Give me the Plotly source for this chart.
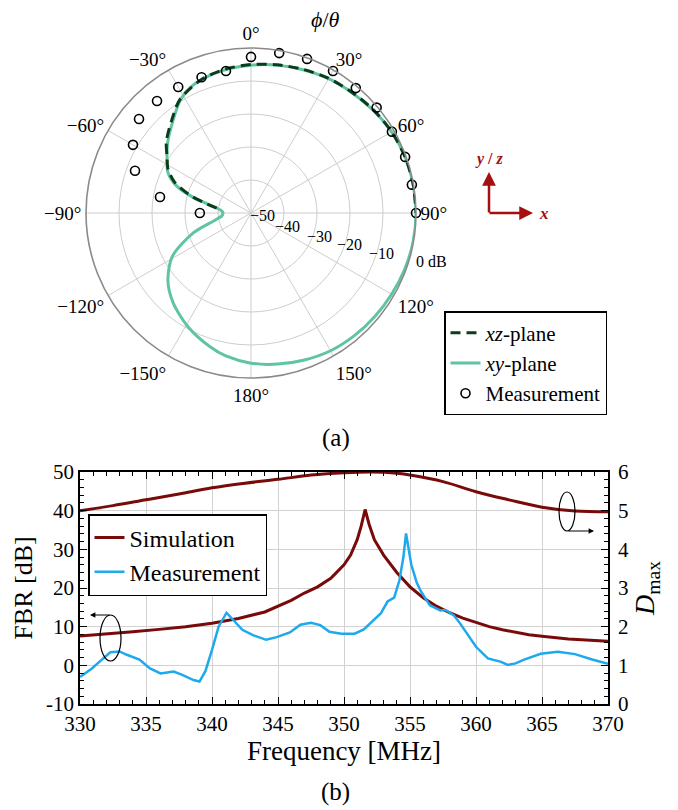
import plotly.graph_objects as go

W, H = 678, 810
SERIF = "Liberation Serif"

# ---------------- (a) polar pattern data ----------------
xy_theta = [0, 10, 20, 30, 40, 50, 60, 70, 80, 90, 100, 110, 120, 130, 140, 150, 160, 170, 180,
            190, 197, 209, 221, 231, 241, 251, 259, 265, 270, 273, 278, 285, 290, 296, 302, 310,
            319, 328, 335, 345, 352, 360]
xy_db = [-5.2, -4.5, -3.8, -3.0, -2.4, -1.6, -0.8, -0.3, -0.1, 0.0, -0.1, -0.4, -0.8, -1.1, -1.4,
         -1.8, -2.6, -3.5, -4.5, -6.0, -7.6, -10.6, -14.0, -17.6, -22.7, -31.5, -39.0, -41.2, -41.5,
         -41.3, -39.7, -32.0, -26.0, -22.0, -20.0, -17.0, -13.7, -9.6, -7.6, -6.3, -5.7, -5.2]

xz_theta = [-82, -78, -74, -68, -62, -56, -50, -41, -32, -20, -10, 0, 10, 20, 30, 40, 50, 60, 70, 80, 90]
xz_db = [-39.5, -36.0, -31.0, -25.0, -21.5, -19.3, -16.5, -13.2, -9.4, -6.8, -5.7, -5.0, -4.4,
         -3.7, -2.9, -2.3, -1.5, -0.8, -0.3, -0.1, 0.0]

meas_theta = [-90, -80, -70, -60, -50, -40, -30, -20, -10, 0, 10, 20, 30, 40, 50, 60, 70, 80, 90]
meas_db = [-34.5, -22.0, -12.6, -8.7, -5.7, -5.7, -5.9, -6.2, -6.3, -2.7, -0.8, -0.3, -0.3, -0.6,
           -0.3, -0.7, -0.3, -0.5, 0.0]

ang_ticks = [0, 30, 60, 90, 120, 150, 180, 210, 240, 270, 300, 330]
ang_text = ["0°", "30°", "60°", "90°", "120°", "150°", "180°", "−150°", "−120°", "−90°", "−60°", "−30°"]
rad_ticks = [-50, -40, -30, -20, -10, 0]
rad_text = ["−50", "−40", "−30", "−20", "−10", "0 dB"]

# ---------------- (b) frequency data ----------------
f_meas = [330.0, 330.9, 331.7, 332.3, 333.0, 333.5, 334.5, 335.3, 336.1, 337.1, 337.7, 338.6, 339.05,
          339.5, 340.0, 340.5, 341.1, 341.7, 342.3, 343.1, 344.1, 344.9, 345.9, 346.7, 347.5, 348.2,
          348.9, 349.8, 350.8, 351.5, 352.1, 352.8, 353.3, 353.8, 354.2, 354.5, 354.7, 354.9, 355.1,
          355.5, 355.8, 356.5, 357.3, 357.7, 358.3, 358.7, 359.3, 360.0, 360.9, 361.9, 362.4, 363.0,
          363.6, 364.9, 366.2, 367.5, 368.8, 369.8, 370.0]
fbr_meas = [-3.0, -0.8, 1.6, 3.4, 3.6, 2.8, 1.5, -0.8, -2.1, -1.6, -2.4, -3.8, -4.2, -1.5, 4.0, 10.0,
            13.6, 11.5, 9.2, 7.8, 6.6, 7.3, 8.5, 10.5, 11.0, 10.4, 8.7, 8.2, 8.2, 9.3, 11.3, 13.5, 16.5,
            17.5, 22.0, 28.0, 34.1, 30.0, 26.0, 21.5, 19.3, 15.5, 14.2, 14.3, 13.0, 11.3, 8.3, 4.8, 1.8,
            0.9, 0.1, 0.5, 1.4, 3.0, 3.5, 2.9, 1.5, 0.6, 0.4]

f_sim = [330, 332, 334, 336, 338, 340, 342, 344, 346, 347, 348, 349, 350, 350.5, 351, 351.3, 351.6,
         351.9, 352.3, 353, 354, 355, 356, 357, 358, 359, 360, 361, 362, 363, 364, 365, 366, 367, 368,
         369, 370]
fbr_sim = [7.6, 8.1, 8.7, 9.3, 10.0, 10.9, 12.1, 13.8, 16.8, 18.7, 20.3, 22.5, 26.0, 28.5, 32.5, 36.0,
           40.3, 36.5, 32.5, 28.5, 24.0, 20.3, 17.5, 15.3, 13.6, 12.2, 11.0, 10.0, 9.2, 8.5, 7.9, 7.5,
           7.1, 6.8, 6.6, 6.4, 6.2]

f_dmax = [330, 332.5, 335, 337.5, 340, 342.5, 345, 347.5, 350, 352, 354, 355, 357.5, 360, 362.5, 365,
          367.5, 370]
dmax_sim = [5.0, 5.13, 5.28, 5.43, 5.59, 5.71, 5.81, 5.92, 5.98, 6.0, 5.97, 5.92, 5.75, 5.49, 5.28,
            5.09, 4.99, 4.97]

TEAL = "#5fc4a2"
DKGREEN = "#0b3d1c"
DKRED = "#780a0a"
BLUE = "#1ea9ec"
ARROWRED = "#a50f0f"


def px(x):
    return x / W


def py(y):
    return 1 - y / H


fig = go.Figure()

fig.add_trace(go.Scatterpolar(theta=xy_theta, r=xy_db, mode="lines", name="<i>xy</i>-plane",
                              line=dict(color=TEAL, width=3, shape="spline", smoothing=0.8),
                              legend="legend", legendrank=2, cliponaxis=False))
fig.add_trace(go.Scatterpolar(theta=xz_theta, r=xz_db, mode="lines", name="<i>xz</i>-plane",
                              line=dict(color=DKGREEN, width=3, dash="10px,6px", shape="spline", smoothing=0.8),
                              legend="legend", legendrank=1, cliponaxis=False))
fig.add_trace(go.Scatterpolar(theta=meas_theta, r=meas_db, mode="markers", name="Measurement",
                              marker=dict(symbol="circle-open", size=9, color="black",
                                          line=dict(width=1.6, color="black")),
                              legend="legend", legendrank=3, cliponaxis=False))

fig.add_trace(go.Scatter(x=f_dmax, y=dmax_sim, mode="lines", line=dict(color=DKRED, width=3, shape="spline"),
                         yaxis="y2", showlegend=False))
fig.add_trace(go.Scatter(x=f_sim, y=fbr_sim, mode="lines", name="Simulation",
                         line=dict(color=DKRED, width=3), legend="legend2"))
fig.add_trace(go.Scatter(x=f_meas, y=fbr_meas, mode="lines", name="Measurement",
                         line=dict(color=BLUE, width=2.5), legend="legend2"))

cx, cy, R = 251, 213, 165

fig.update_layout(
    width=W, height=H,
    margin=dict(l=0, r=0, t=0, b=0),
    paper_bgcolor="white", plot_bgcolor="white",
    font=dict(family=SERIF, color="black", size=18),
    polar=dict(
        domain=dict(x=[px(cx - R), px(cx + R)], y=[py(cy + R), py(cy - R)]),
        bgcolor="white",
        angularaxis=dict(direction="clockwise", rotation=90, tickvals=ang_ticks, ticktext=ang_text,
                         ticks="", showline=True, linecolor="#8a8a8a", linewidth=1.6,
                         gridcolor="#cdcdcd", gridwidth=1, tickfont=dict(size=19, family=SERIF)),
        radialaxis=dict(range=[-50, 0], tickvals=rad_ticks, showticklabels=False, angle=-16,
                        showline=False, ticks="", gridcolor="#cdcdcd", gridwidth=1),
    ),
    xaxis=dict(domain=[px(80), px(608)], range=[330, 370], dtick=5, tick0=330,
               ticks="inside", ticklen=7, tickwidth=1.3, tickcolor="black",
               minor=dict(dtick=1, ticks="inside", ticklen=4, tickcolor="black", showgrid=False),
               showline=True, linecolor="black", linewidth=1.5, mirror="ticks",
               showgrid=True, gridcolor="#d2d2d2", gridwidth=1, zeroline=False,
               tickfont=dict(size=21, family=SERIF), automargin=False,
               title=dict(text="Frequency [MHz]", font=dict(size=27, family=SERIF), standoff=4)),
    yaxis=dict(domain=[py(704), py(472)], range=[-10, 50],
               tickvals=[-10, 0, 10, 20, 30, 40, 50], ticktext=["-10", "0", "10", "20", "30", "40", "50"],
               ticks="inside", ticklen=7, tickwidth=1.3, tickcolor="black",
               minor=dict(dtick=2, tick0=0, ticks="inside", ticklen=4, tickcolor="black", showgrid=False),
               showline=True, linecolor="black", linewidth=1.5,
               showgrid=True, gridcolor="#d2d2d2", gridwidth=1, zeroline=False,
               tickfont=dict(size=21, family=SERIF), automargin=False,
               title=dict(text="FBR [dB]", font=dict(size=26, family=SERIF), standoff=6)),
    yaxis2=dict(overlaying="y", side="right", range=[0, 6], dtick=1, tick0=0, anchor="x",
                ticks="inside", ticklen=7, tickwidth=1.3, tickcolor="black",
                minor=dict(dtick=0.2, ticks="inside", ticklen=4, tickcolor="black", showgrid=False),
                showline=True, linecolor="black", linewidth=1.5, showgrid=False, zeroline=False,
                tickfont=dict(size=21, family=SERIF), automargin=False, ticklabelstandoff=4,
                title=dict(text="<i>D</i><sub>max</sub>", font=dict(size=28, family=SERIF), standoff=4)),
    legend=dict(x=px(444), y=py(311), xanchor="left", yanchor="top", bgcolor="white",
                bordercolor="black", borderwidth=1.5, font=dict(size=21, family=SERIF),
                traceorder="normal", itemwidth=30, tracegroupgap=0),
    legend2=dict(x=px(88), y=py(514), xanchor="left", yanchor="top", bgcolor="white",
                 bordercolor="black", borderwidth=1.5, font=dict(size=24, family=SERIF),
                 itemwidth=30, tracegroupgap=0),
)


def txt(x, y, text, size, color="black", xanchor="center"):
    return dict(x=px(x), y=py(y), xref="paper", yref="paper", text=text, showarrow=False,
                xanchor=xanchor, yanchor="middle", font=dict(size=size, family=SERIF, color=color))


ann = []
ann.append(txt(325, 19, "<i>ϕ</i>/<i>θ</i>", 22))
ann.append(txt(336, 438, "(a)", 25))
ann.append(txt(335, 792, "(b)", 25))
# radial tick labels (placed along a line below the 90° spoke)
rad_pos = [(262, 215), (287, 226), (319, 236), (350, 244), (382, 253), (431, 261)]
for (lx, ly), t in zip(rad_pos, rad_text):
    ann.append(txt(lx, ly, t, 16))
# coordinate triad
ann.append(dict(x=px(489), y=py(172), xref="paper", yref="paper", ax=0, ay=42, axref="pixel", ayref="pixel",
                text="", showarrow=True, arrowhead=2, arrowsize=1.1, arrowwidth=2.5, arrowcolor=ARROWRED))
ann.append(dict(x=px(533), y=py(213), xref="paper", yref="paper", ax=-45, ay=0, axref="pixel", ayref="pixel",
                text="", showarrow=True, arrowhead=2, arrowsize=1.1, arrowwidth=2.5, arrowcolor=ARROWRED))
ann.append(txt(489, 159, "<b><i>y</i> / <i>z</i></b>", 16, ARROWRED))
ann.append(txt(544, 214, "<b><i>x</i></b>", 17, ARROWRED))
# curve-to-axis indicators
ann.append(dict(x=px(90), y=py(615), xref="paper", yref="paper", ax=21, ay=0, axref="pixel", ayref="pixel",
                text="", showarrow=True, arrowhead=2, arrowsize=0.9, arrowwidth=1.2, arrowcolor="black"))
ann.append(dict(x=px(594), y=py(531), xref="paper", yref="paper", ax=-27, ay=0, axref="pixel", ayref="pixel",
                text="", showarrow=True, arrowhead=2, arrowsize=0.9, arrowwidth=1.2, arrowcolor="black"))
fig.update_layout(annotations=ann)

fig.update_layout(shapes=[
    dict(type="circle", xref="paper", yref="paper", x0=px(100), x1=px(121), y0=py(661), y1=py(615),
         line=dict(color="black", width=1.2)),
    dict(type="circle", xref="paper", yref="paper", x0=px(559), x1=px(575), y0=py(531), y1=py(492),
         line=dict(color="black", width=1.2)),
])

fig.write_html("out.html")
